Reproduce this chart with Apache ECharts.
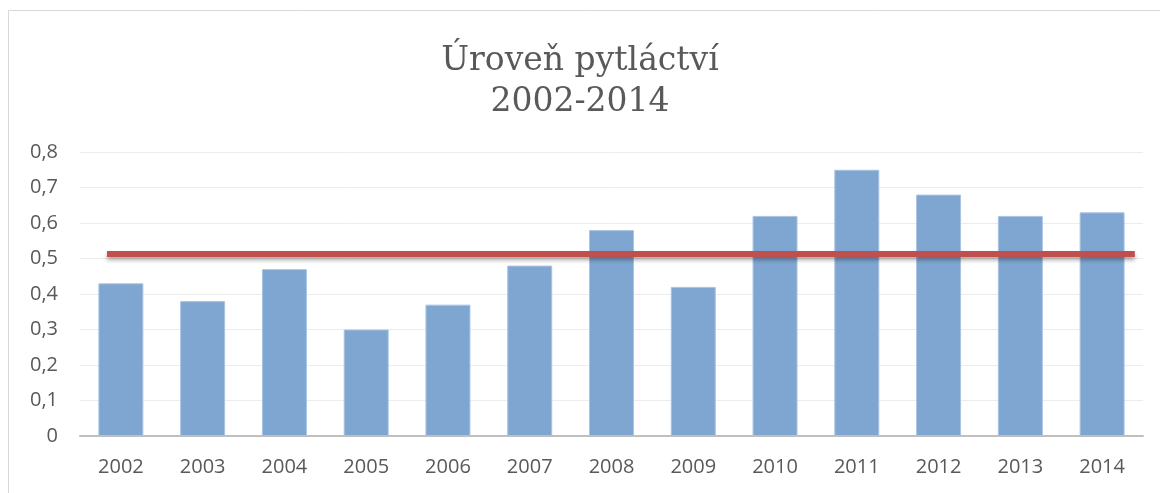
<!DOCTYPE html>
<html>
<head>
<meta charset="utf-8">
<script src="https://cdn.jsdelivr.net/npm/echarts@6/dist/echarts.min.js"></script>
<style>
  html, body { margin: 0; padding: 0; background: #fff; }
  #chart { width: 1160px; height: 493px; }
</style>
</head>
<body>
<div id="chart"></div>
<script>
// roky a hodnoty pytláctví
const years = ['2002', '2003', '2004', '2005', '2006', '2007', '2008', '2009', '2010', '2011', '2012', '2013', '2014'];
const values = [0.43, 0.38, 0.47, 0.30, 0.37, 0.48, 0.58, 0.42, 0.62, 0.75, 0.68, 0.62, 0.63];
const yTicks = [0, 0.1, 0.2, 0.3, 0.4, 0.5, 0.6, 0.7, 0.8];
const avgLevel = 0.513; // červená čára
const avgSpan = [0.33, 12.9]; // rozsah čáry v jednotkách kategorií

const chart = echarts.init(document.getElementById('chart'));

const option = {
    animation: false,
    graphic: [{
        type: 'rect',
        shape: { x: 8.5, y: 10.5, width: 1170, height: 500 },
        style: { fill: 'none', stroke: '#d9d9d9', lineWidth: 1 },
        silent: true
    }],
    title: {
        text: 'Úroveň pytláctví\n2002-2014',
        left: 'center',
        top: 36,
        textStyle: {
            fontFamily: 'DejaVu Serif',
            fontSize: 33,
            fontWeight: 'normal',
            color: '#595959',
            lineHeight: 41
        }
    },
    grid: { left: 80, right: 17, top: 152, bottom: 57, containLabel: false },
    xAxis: [{
        type: 'category',
        data: years,
        axisLine: { lineStyle: { color: '#bfbfbf', width: 2 } },
        axisTick: { show: false },
        axisLabel: { color: '#595959', fontFamily: 'Open Sans', fontSize: 20, margin: 21 }
    }, {
        type: 'value',
        min: 0,
        max: years.length,
        show: false
    }],
    yAxis: {
        type: 'value',
        min: yTicks[0],
        max: yTicks[yTicks.length - 1],
        interval: 0.1,
        axisLine: { show: false },
        axisTick: { show: false },
        splitLine: { lineStyle: { color: '#ececec', width: 1 } },
        axisLabel: {
            color: '#595959',
            fontFamily: 'Open Sans',
            fontSize: 20,
            margin: 22,
            formatter: v => String(Math.round(v * 10) / 10).replace('.', ',')
        }
    },
    series: [{
        type: 'bar',
        data: values,
        barWidth: '55%',
        itemStyle: { color: '#7fa6d0', borderColor: '#a9c3e2', borderWidth: 1 }
    }, {
        type: 'line',
        xAxisIndex: 1,
        data: avgSpan.map(x => [x, avgLevel]),
        symbol: 'none',
        lineStyle: {
            color: '#c0504d',
            width: 6,
            shadowColor: 'rgba(0,0,0,0.35)',
            shadowBlur: 4,
            shadowOffsetY: 3
        },
        z: 5
    }]
};

chart.setOption(option);
</script>
</body>
</html>
